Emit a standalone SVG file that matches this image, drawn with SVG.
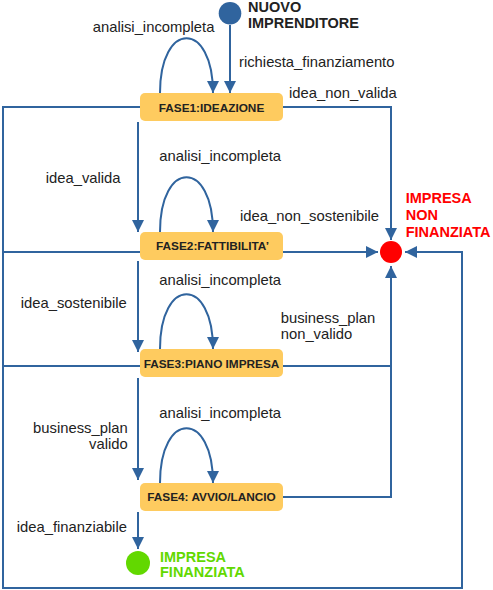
<svg xmlns="http://www.w3.org/2000/svg" width="493" height="590" viewBox="0 0 493 590">
<style>
.ln{fill:none;stroke:#30649e;stroke-width:2}
.lbl{font-family:"Liberation Sans",Arial,sans-serif;font-size:14.8px;fill:#222}
.box{fill:#fecb5f}
.bt{font-family:"Liberation Sans",Arial,sans-serif;font-size:11.8px;font-weight:bold;fill:#222;text-anchor:middle}
.big{font-family:"Liberation Sans",Arial,sans-serif;font-size:14.5px;font-weight:bold}
</style>
<defs>
<marker id="ah" markerUnits="userSpaceOnUse" markerWidth="12" markerHeight="12" refX="11" refY="5.5" orient="auto" viewBox="0 0 11 11">
<path d="M0,0 L11,5.5 L0,11 z" fill="#30649e"/>
</marker>
</defs>
<rect width="493" height="590" fill="#fff"/>
<g id="connectors">
<path class="ln" d="M230,25 L230,93" marker-end="url(#ah)"/>
<path class="ln" d="M160,93 C160,20 213,20 213,93" marker-end="url(#ah)"/>
<path class="ln" d="M160,232 C160,159 213,159 213,232" marker-end="url(#ah)"/>
<path class="ln" d="M160,349 C160,276 213,276 213,349" marker-end="url(#ah)"/>
<path class="ln" d="M160,483 C160,410 213,410 213,483" marker-end="url(#ah)"/>
<path class="ln" d="M138,122 L138,232" marker-end="url(#ah)"/>
<path class="ln" d="M138,261 L138,352" marker-end="url(#ah)"/>
<path class="ln" d="M138,378 L138,480" marker-end="url(#ah)"/>
<path class="ln" d="M138,512 L138,549" marker-end="url(#ah)"/>
<path class="ln" d="M283,107 L391,107 L391,240" marker-end="url(#ah)"/>
<path class="ln" d="M283,252 L378,252" marker-end="url(#ah)"/>
<path class="ln" d="M283,366 L391,366 L391,266" marker-end="url(#ah)"/>
<path class="ln" d="M283,497 L391,497 L391,366"/>
<path class="ln" d="M140,107 L3,107 L3,588 L462,588 L462,252 L405,252" marker-end="url(#ah)"/>
<path class="ln" d="M140,252 L3,252"/>
<path class="ln" d="M140,366 L3,366"/>
<text class="lbl" x="92.7" y="32.3">analisi_incompleta</text>
<text class="lbl" x="239" y="66.7">richiesta_finanziamento</text>
<text class="lbl" x="289" y="97.7">idea_non_valida</text>
<text class="lbl" x="45.7" y="182.7">idea_valida</text>
<text class="lbl" x="159.3" y="161">analisi_incompleta</text>
<text class="lbl" x="240" y="220.7">idea_non_sostenibile</text>
<text class="lbl" x="159.3" y="285">analisi_incompleta</text>
<text class="lbl" x="20.7" y="307.7">idea_sostenibile</text>
<text class="lbl" x="280.7" y="323.3">business_plan</text>
<text class="lbl" x="280.7" y="339.3">non_valido</text>
<text class="lbl" x="159.3" y="418.3">analisi_incompleta</text>
<text class="lbl" x="127.7" y="433.3" text-anchor="end">business_plan</text>
<text class="lbl" x="127.7" y="448.8" text-anchor="end">valido</text>
<text class="lbl" x="16.7" y="531.7">idea_finanziabile</text>
</g>
<g id="start">
<circle cx="230" cy="13.3" r="11.3" fill="#30649e"/>
<text class="big" fill="#222" x="248" y="11.5">NUOVO</text>
<text class="big" fill="#222" x="248" y="28">IMPRENDITORE</text>
</g>
<g id="fase1">
<rect class="box" x="140" y="93" width="143" height="28" rx="5"/>
<text class="bt" x="211.5" y="111.5">FASE1:IDEAZIONE</text>
</g>
<g id="fase2">
<rect class="box" x="140" y="232" width="143" height="28" rx="5"/>
<text class="bt" x="212.5" y="250.3">FASE2:FATTIBILITA’</text>
</g>
<g id="fase3">
<rect class="box" x="140" y="349" width="143" height="28" rx="5"/>
<text class="bt" x="211.5" y="367.5">FASE3:PIANO IMPRESA</text>
</g>
<g id="fase4">
<rect class="box" x="140" y="483" width="143" height="28" rx="5"/>
<text class="bt" x="211.5" y="501.3">FASE4: AVVIO/LANCIO</text>
</g>
<g id="non-finanziata">
<circle cx="391" cy="252" r="11" fill="#ff0000"/>
<text class="big" fill="#ff0000" x="405.7" y="202.7">IMPRESA</text>
<text class="big" fill="#ff0000" x="405.7" y="220">NON</text>
<text class="big" fill="#ff0000" x="405.7" y="236.7">FINANZIATA</text>
</g>
<g id="finanziata">
<circle cx="138" cy="563" r="12" fill="#62d800"/>
<text class="big" fill="#62d800" x="160" y="561.7">IMPRESA</text>
<text class="big" fill="#62d800" x="160" y="577.3">FINANZIATA</text>
</g>
</svg>
